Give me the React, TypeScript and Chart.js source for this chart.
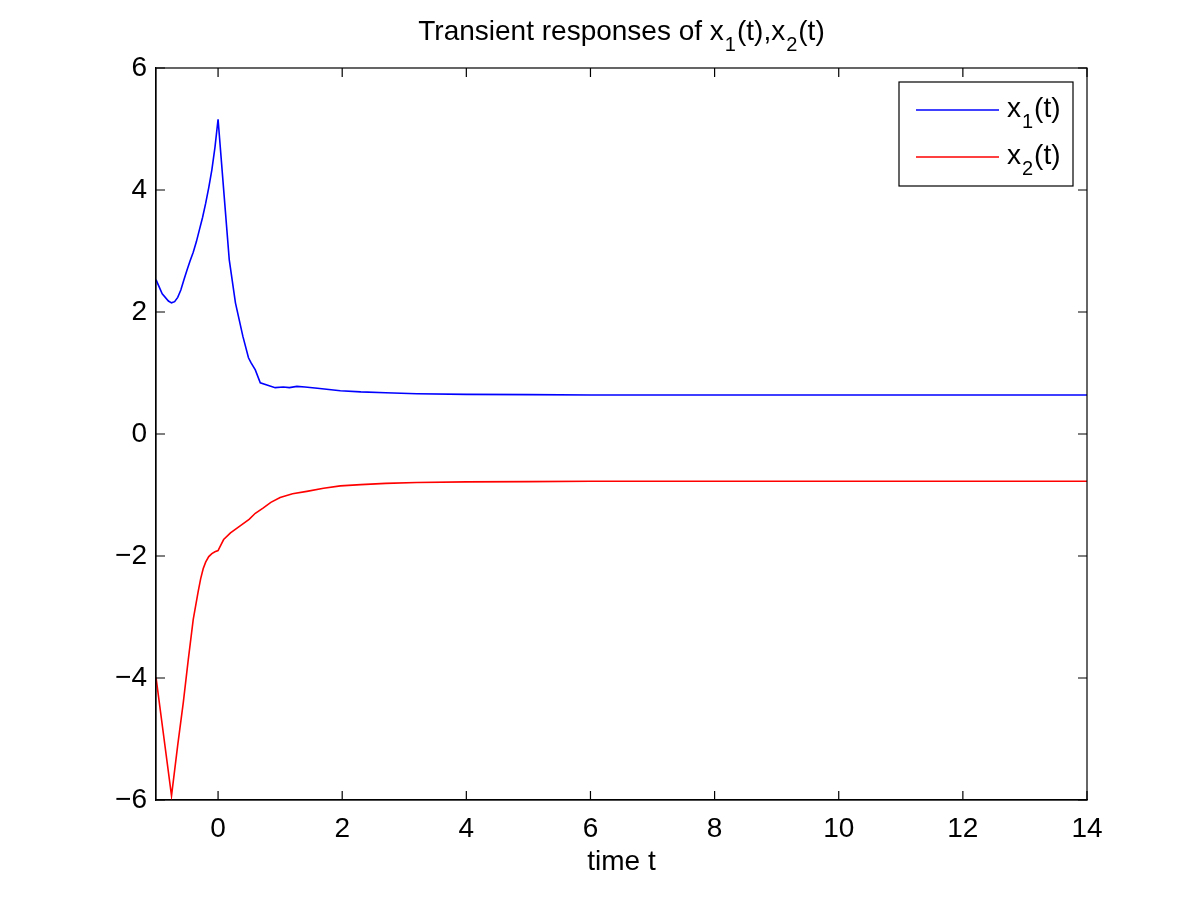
import React, { useEffect, useRef } from 'react';
import { Chart, registerables } from 'chart.js';

Chart.register(...registerables);

// ---- data ----
const x1Time = [-1, -0.9, -0.8, -0.75, -0.7, -0.65, -0.6, -0.55, -0.5, -0.45, -0.4, -0.35, -0.3, -0.25, -0.2, -0.15, -0.1, -0.05, 0, 0.1, 0.18, 0.28, 0.4, 0.49, 0.53, 0.6, 0.68, 0.8, 0.92, 1.05, 1.15, 1.27, 1.4, 1.6, 1.97, 2.3, 2.7, 3.2, 4, 5, 6, 8, 10, 12, 14];
const x1Values = [2.53, 2.3, 2.18, 2.15, 2.17, 2.24, 2.36, 2.53, 2.69, 2.84, 2.98, 3.15, 3.35, 3.55, 3.78, 4.04, 4.33, 4.7, 5.16, 3.88, 2.86, 2.15, 1.6, 1.25, 1.17, 1.05, 0.84, 0.8, 0.76, 0.77, 0.76, 0.78, 0.77, 0.75, 0.71, 0.69, 0.675, 0.66, 0.65, 0.645, 0.64, 0.64, 0.64, 0.64, 0.64];
const x2Time = [-1, -0.75, -0.65, -0.56, -0.48, -0.4, -0.32, -0.28, -0.24, -0.2, -0.15, -0.1, -0.05, 0, 0.03, 0.09, 0.2, 0.35, 0.5, 0.6, 0.73, 0.85, 1.0, 1.2, 1.43, 1.7, 1.97, 2.3, 2.7, 3.2, 4, 5, 6, 8, 10, 12, 14];
const x2Values = [-3.99, -5.93, -5.1, -4.4, -3.7, -3.04, -2.58, -2.37, -2.21, -2.1, -2.01, -1.96, -1.93, -1.91, -1.85, -1.73, -1.62, -1.51, -1.4, -1.3, -1.21, -1.12, -1.04, -0.98, -0.94, -0.89, -0.85, -0.83, -0.81, -0.795, -0.785, -0.78, -0.775, -0.775, -0.775, -0.775, -0.775];
const xTickValues = [0, 2, 4, 6, 8, 10, 12, 14];
const yTickValues = [-6, -4, -2, 0, 2, 4, 6];
const seriesNames = ['x', 'x'];
const seriesSubs = ['1', '2'];
const seriesColors = ['#0000ff', '#ff0000'];
const xAxisTitle = 'time t';
const titleParts = [
  { text: 'Transient responses of x', sub: false },
  { text: '1', sub: true },
  { text: '(t),x', sub: false },
  { text: '2', sub: true },
  { text: '(t)', sub: false },
];

const FONT = "'Liberation Sans', Arial, Helvetica, sans-serif";
const SIZE = 28;
const SUB = 20;

function drawRich(ctx: CanvasRenderingContext2D, parts: { text: string; sub: boolean }[], x: number, y: number, align: 'left' | 'center', subDrop: number) {
  ctx.save();
  ctx.textBaseline = 'alphabetic';
  ctx.textAlign = 'left';
  ctx.fillStyle = '#000';
  const gap = 1;
  const widths = parts.map((p) => {
    ctx.font = `${p.sub ? SUB : SIZE}px ${FONT}`;
    return ctx.measureText(p.text).width + (p.sub ? gap * 2 : 0);
  });
  const total = widths.reduce((a, b) => a + b, 0);
  let cx = align === 'center' ? x - total / 2 : x;
  parts.forEach((p, i) => {
    ctx.font = `${p.sub ? SUB : SIZE}px ${FONT}`;
    ctx.fillText(p.text, cx + (p.sub ? gap : 0), p.sub ? y + subDrop : y);
    cx += widths[i];
  });
  ctx.restore();
}

export default function App() {
  const ref = useRef<HTMLCanvasElement>(null);

  useEffect(() => {
    document.body.style.margin = '0';
    const canvas = ref.current;
    if (!canvas) return;

    const decorations = {
      id: 'decorations',
      afterDraw(chart: any) {
        const ctx: CanvasRenderingContext2D = chart.ctx;
        const { left, right, top, bottom } = chart.chartArea;
        const xs = chart.scales.x;
        const ys = chart.scales.y;
        const tl = 9;
        ctx.save();
        ctx.strokeStyle = '#000';
        ctx.lineWidth = 1.2;
        ctx.strokeRect(left, top, right - left, bottom - top);
        ctx.beginPath();
        xTickValues.forEach((v) => {
          const px = xs.getPixelForValue(v);
          ctx.moveTo(px, bottom);
          ctx.lineTo(px, bottom - tl);
          ctx.moveTo(px, top);
          ctx.lineTo(px, top + tl);
        });
        yTickValues.forEach((v) => {
          const py = ys.getPixelForValue(v);
          ctx.moveTo(left, py);
          ctx.lineTo(left + tl, py);
          ctx.moveTo(right, py);
          ctx.lineTo(right - tl, py);
        });
        ctx.stroke();

        // title
        drawRich(ctx, titleParts, (left + right) / 2, 40, 'center', 11);

        // legend
        const bx = 899, by = 82, bw = 174, bh = 104;
        ctx.fillStyle = '#fff';
        ctx.fillRect(bx, by, bw, bh);
        ctx.lineWidth = 1.2;
        ctx.strokeStyle = '#000';
        ctx.strokeRect(bx, by, bw, bh);
        const rows = [110, 157];
        rows.forEach((ry, i) => {
          ctx.beginPath();
          ctx.strokeStyle = seriesColors[i];
          ctx.lineWidth = 1.5;
          ctx.moveTo(916, ry);
          ctx.lineTo(999, ry);
          ctx.stroke();
          drawRich(
            ctx,
            [
              { text: seriesNames[i], sub: false },
              { text: seriesSubs[i], sub: true },
              { text: '(t)', sub: false },
            ],
            1007,
            ry + 7,
            'left',
            11
          );
        });
        ctx.restore();
      },
    };

    const chart = new Chart(canvas, {
      type: 'line',
      data: {
        datasets: [
          {
            label: 'x1(t)',
            data: x1Time.map((t, i) => ({ x: t, y: x1Values[i] })),
            borderColor: seriesColors[0],
            borderWidth: 1.6,
            pointRadius: 0,
            tension: 0,
            fill: false,
          },
          {
            label: 'x2(t)',
            data: x2Time.map((t, i) => ({ x: t, y: x2Values[i] })),
            borderColor: seriesColors[1],
            borderWidth: 1.6,
            pointRadius: 0,
            tension: 0,
            fill: false,
          },
        ],
      },
      options: {
        animation: false,
        responsive: false,
        events: [],
        layout: { padding: { top: 68, right: 113, left: 0, bottom: 0 } },
        plugins: {
          legend: { display: false },
          tooltip: { enabled: false },
          title: { display: false },
        },
        scales: {
          x: {
            type: 'linear',
            min: -1,
            max: 14,
            afterBuildTicks: (scale: any) => {
              scale.ticks = xTickValues.map((v) => ({ value: v }));
            },
            afterFit: (scale: any) => {
              scale.height = 103;
            },
            grid: { display: false, drawTicks: false, tickLength: 0 },
            border: { display: true, color: '#000', width: 1.2 },
            ticks: {
              color: '#000',
              font: { family: FONT, size: SIZE },
              padding: 12,
              maxRotation: 0,
              autoSkip: false,
              callback: (v: any) => (v < 0 ? '\u2212' + Math.abs(v) : String(v)),
            },
            title: {
              display: true,
              text: xAxisTitle,
              color: '#000',
              font: { family: FONT, size: SIZE },
              padding: { top: 0, bottom: 24 },
            },
          },
          y: {
            type: 'linear',
            min: -6,
            max: 6,
            afterBuildTicks: (scale: any) => {
              scale.ticks = yTickValues.map((v) => ({ value: v }));
            },
            afterFit: (scale: any) => {
              scale.width = 156;
            },
            grid: { display: false, drawTicks: false, tickLength: 0 },
            border: { display: true, color: '#000', width: 1.2 },
            ticks: {
              color: '#000',
              font: { family: FONT, size: SIZE },
              padding: 9,
              autoSkip: false,
              callback: (v: any) => (v < 0 ? '\u2212' + Math.abs(v) : String(v)),
            },
          },
        },
      },
      plugins: [decorations],
    } as any);

    return () => chart.destroy();
  }, []);

  return (
    <div style={{ width: 1200, height: 903 }}>
      <canvas ref={ref} width={1200} height={903} style={{ display: 'block' }} />
    </div>
  );
}
